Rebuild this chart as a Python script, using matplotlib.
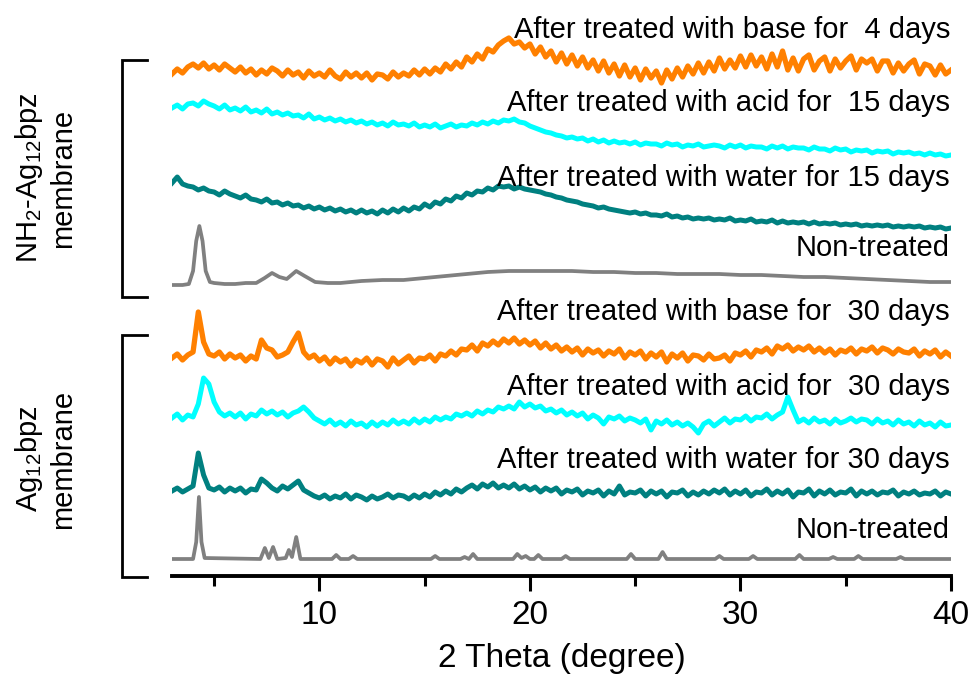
import numpy as np
import matplotlib
matplotlib.use("Agg")
import matplotlib.pyplot as plt
from matplotlib.lines import Line2D

plt.rcParams['font.family'] = ['Liberation Sans', 'DejaVu Sans']
plt.rcParams['mathtext.fontset'] = 'custom'
plt.rcParams['mathtext.rm'] = 'Liberation Sans'
plt.rcParams['mathtext.it'] = 'Liberation Sans:italic'

# 2-theta sampling grid for the scanned membranes (0.25 degree steps)
two_theta = np.linspace(3.0, 40.0, 149)

# NH2-Ag12bpz membrane patterns (intensity, a.u.)
nh2_base_4d = [
    2, 7, 3, 9, 12, 8, 13, 7, 11, 6, 12, 8, 4, 9, 3, 7, 1, 6, 2, 8,
    5, 0, 6, 1, 4, -2, 5, 0, 3, -1, 6, 0, -3, 4, -1, 3, -2, 3, -4, 2,
    1, -3, 4, -1, 3, 0, 6, 1, 7, 2, 8, 4, 12, 7, 14, 9, 19, 14, 22, 17,
    27, 24, 31, 35, 38, 32, 34, 28, 32, 22, 29, 19, 25, 14, 23, 12, 21, 10, 19, 8,
    16, 5, 15, 3, 12, 0, 11, -1, 8, -4, 7, -2, 5, -7, 6, -3, 8, -1, 10, 2,
    13, 3, 14, 5, 18, 7, 16, 8, 20, 9, 21, 10, 19, 7, 22, 9, 25, 6, 18, 5,
    17, 21, 6, 15, 19, 5, 17, 8, 15, 20, 6, 17, 13, 17, 5, 15, 15, 3, 13, 5,
    12, 16, 2, 12, 10, 1, 11, 2, 6]
nh2_acid_15d = [
    48, 51, 47, 52, 53, 50, 55, 52, 50, 47, 51, 46, 48, 45, 49, 44, 46, 43, 47, 42,
    44, 41, 43, 40, 41, 38, 42, 37, 39, 36, 38, 35, 37, 34, 36, 33, 35, 32, 34, 31,
    33, 30, 34, 31, 32, 30, 33, 29, 31, 29, 32, 28, 30, 32, 29, 31, 30, 33, 31, 34,
    32, 35, 33, 36, 35, 37, 34, 33, 30, 28, 26, 24, 23, 21, 20, 18, 19, 17, 18, 15,
    17, 14, 16, 13, 15, 13, 14, 12, 14, 11, 13, 12, 12, 10, 13, 11, 12, 9, 11, 10,
    12, 9, 10, 11, 10, 8, 11, 9, 11, 8, 10, 9, 9, 7, 10, 8, 10, 7, 9, 8,
    8, 6, 9, 7, 7, 5, 8, 6, 7, 4, 6, 5, 6, 3, 5, 4, 5, 2, 4, 3,
    4, 2, 3, 1, 3, 1, 2, 0, 1]
nh2_water_15d = [
    47, 53, 46, 44, 43, 40, 42, 39, 38, 35, 39, 36, 34, 32, 35, 31, 30, 28, 31, 27,
    28, 25, 27, 24, 25, 22, 24, 21, 23, 20, 22, 19, 21, 18, 20, 17, 20, 17, 19, 16,
    20, 17, 21, 18, 22, 19, 23, 21, 26, 23, 28, 26, 31, 29, 34, 32, 37, 35, 39, 38,
    42, 40, 44, 43, 44, 41, 43, 41, 40, 39, 38, 36, 35, 33, 32, 30, 29, 28, 26, 25,
    24, 22, 23, 21, 20, 19, 18, 17, 18, 16, 17, 15, 15, 14, 16, 13, 14, 12, 13, 11,
    12, 11, 12, 10, 11, 10, 12, 9, 10, 9, 11, 8, 9, 8, 10, 7, 9, 7, 8, 7,
    8, 6, 8, 6, 7, 6, 7, 5, 6, 5, 6, 4, 5, 4, 5, 4, 5, 3, 4, 3,
    4, 3, 4, 2, 3, 2, 3, 1, 2]
nh2_fresh_x = [
    3.0, 3.5, 3.8, 4.0, 4.15, 4.3, 4.45, 4.6, 4.8, 5.0, 5.5, 6.0, 6.5, 7.0, 7.4,
    7.75, 8.1, 8.45, 8.9, 9.3, 9.8, 10.4, 11.0, 12.0, 13.0, 14.0, 15.0, 16.0, 17.0,
    18.0, 19.0, 20.0, 21.0, 22.0, 23.0, 24.0, 25.0, 26.0, 27.0, 28.0, 29.0, 30.0,
    31.0, 32.0, 33.0, 34.0, 35.0, 36.0, 37.0, 38.0, 39.0, 40.0]
nh2_fresh = [
    1, 1, 2, 15, 45, 60, 45, 15, 4, 3, 2, 2, 3, 3, 8,
    13, 9, 7, 15, 10, 4, 3, 3, 5, 6, 6, 8, 10, 12,
    14, 15, 15, 15, 15, 14, 14, 13, 13, 12, 12, 12, 11,
    11, 10, 9, 9, 8, 7, 6, 5, 4, 4]

# Ag12bpz membrane patterns (intensity, a.u.)
ag_base_30d = [
    12, 16, 10, 15, 18, 58, 28, 16, 14, 18, 11, 16, 12, 15, 9, 14, 11, 30, 22, 20,
    13, 15, 18, 28, 37, 18, 12, 15, 9, 13, 6, 12, 8, 11, 4, 10, 7, 12, 5, 11,
    9, 3, 12, 6, 10, 14, 7, 12, 11, 15, 9, 16, 14, 19, 15, 21, 20, 25, 19, 27,
    24, 29, 25, 31, 27, 32, 26, 30, 25, 29, 22, 27, 21, 25, 19, 23, 18, 22, 15, 21,
    17, 20, 14, 19, 16, 21, 12, 18, 15, 19, 11, 17, 13, 18, 8, 16, 12, 17, 9, 15,
    14, 10, 16, 11, 12, 15, 9, 17, 15, 19, 13, 20, 18, 22, 16, 24, 21, 25, 19, 23,
    20, 24, 18, 22, 17, 21, 15, 20, 18, 22, 16, 21, 19, 23, 17, 22, 20, 16, 21, 18,
    17, 21, 14, 19, 16, 20, 13, 18, 14]
ag_acid_30d = [
    10, 14, 8, 13, 11, 24, 50, 44, 26, 16, 12, 15, 11, 15, 9, 14, 12, 18, 14, 17,
    13, 16, 11, 15, 17, 21, 16, 10, 7, 4, 8, 3, 6, 2, 7, 3, 5, 1, 6, 2,
    6, 3, 8, 4, 7, 4, 9, 5, 9, 6, 11, 8, 11, 9, 14, 12, 15, 12, 17, 14,
    18, 16, 21, 19, 22, 19, 26, 21, 24, 20, 22, 17, 19, 15, 18, 13, 16, 12, 15, 9,
    13, 10, 4, 11, 9, 12, 7, 10, 8, 5, 9, -2, 7, 4, 8, 3, 6, 2, 5, 1,
    -5, 4, 7, 2, 6, 10, 5, 9, 8, 12, 7, 11, 10, 14, 9, 13, 16, 31, 18, 6,
    9, 5, 10, 6, 8, 4, 9, 5, 7, 10, 6, 9, 8, 4, 9, 5, 7, 3, 8, 4,
    6, 2, 7, 3, 5, 1, 6, 2, 3]
ag_water_30d = [
    9, 12, 8, 11, 14, 47, 25, 12, 10, 13, 8, 12, 9, 12, 7, 11, 10, 21, 17, 12,
    9, 14, 11, 15, 19, 10, 7, 4, 2, 5, 1, 4, 2, 6, 1, 5, 3, 0, 4, 1,
    3, 6, 2, 5, 4, 1, 5, 2, 6, 3, 8, 5, 9, 6, 11, 8, 12, 15, 11, 16,
    13, 17, 12, 15, 12, 16, 11, 14, 10, 13, 8, 12, 9, 12, 6, 10, 8, 11, 5, 9,
    7, 10, 4, 9, 6, 14, 5, 8, 7, 10, 4, 9, 6, 9, 3, 8, 7, 10, 4, 8,
    5, 9, 6, 10, 7, 11, 5, 9, 6, 10, 4, 8, 7, 11, 5, 9, 6, 10, 3, 8,
    7, 11, 4, 9, 6, 10, 5, 8, 7, 11, 4, 9, 6, 9, 5, 8, 7, 10, 4, 8,
    6, 9, 5, 7, 6, 9, 4, 8, 6]
ag_fresh_x = [
    3.0, 4.0, 4.15, 4.28, 4.4, 4.55, 7.2, 7.41, 7.6, 7.8, 8.0, 8.4, 8.55, 8.7,
    8.9, 9.1, 10.6, 10.8, 11.0, 11.4, 11.6, 11.8, 15.3, 15.5, 15.7, 16.7, 16.9,
    17.1, 17.3, 17.5, 19.2, 19.4, 19.6, 19.8, 20.0, 20.2, 20.4, 20.6, 21.5, 21.7,
    21.9, 24.6, 24.8, 25.0, 26.1, 26.3, 26.5, 28.8, 29.0, 29.2, 30.4, 30.6, 30.8,
    32.6, 32.8, 33.0, 34.2, 34.4, 34.6, 35.4, 35.6, 35.8, 37.4, 37.6, 37.8, 40.0]
ag_fresh = [
    3, 3, 20, 65, 20, 4, 3, 14, 4, 15, 3, 4, 12, 5,
    25, 3, 3, 7, 3, 3, 6, 3, 3, 6, 3, 3, 5,
    3, 8, 3, 3, 8, 4, 6, 3, 3, 7, 3, 3, 6,
    3, 3, 8, 3, 3, 10, 3, 3, 6, 3, 3, 6, 3,
    3, 7, 3, 3, 5, 3, 3, 6, 3, 3, 5, 3, 3]

series_x = [two_theta, two_theta, two_theta, nh2_fresh_x,
            two_theta, two_theta, two_theta, ag_fresh_x]
series_y = [nh2_base_4d, nh2_acid_15d, nh2_water_15d, nh2_fresh,
            ag_base_30d, ag_acid_30d, ag_water_30d, ag_fresh]
series_labels = [
    "After treated with base for  4 days",
    "After treated with acid for  15 days",
    "After treated with water for 15 days",
    "Non-treated",
    "After treated with base for  30 days",
    "After treated with acid for  30 days",
    "After treated with water for 30 days",
    "Non-treated",
]
group_labels = ["NH$_2$-Ag$_{12}$bpz\nmembrane", "Ag$_{12}$bpz\nmembrane"]

# vertical stacking offsets and label heights
offsets = [500, 420, 346, 290, 206, 148, 76, 14]
label_y = [546, 473, 398, 328, 264, 189, 116, 46]
colors = ["#FF8000", "#00FFFF", "#008080", "#808080"] * 2
widths = [3.8, 3.6, 3.6, 2.7] * 2

W, H = 972, 675
fig = plt.figure(figsize=(W / 100, H / 100), dpi=100)
ax = fig.add_axes([172 / W, 99 / H, 779 / W, 576 / H])

for xs, ys, off, c, lw in zip(series_x, series_y, offsets, colors, widths):
    ax.plot(xs, np.asarray(ys) + off, color=c, lw=lw, solid_joinstyle='round')

for txt, yy in zip(series_labels, label_y):
    ax.text(39.95, yy, txt, ha='right', va='center', fontsize=21, color='black')

ax.set_xlim(3, 40)
ax.set_ylim(0, 576)
for s in ('left', 'right', 'top'):
    ax.spines[s].set_visible(False)
ax.spines['bottom'].set_linewidth(2.8)
ax.set_yticks([])
ax.set_xticks([10, 20, 30, 40])
ax.set_xticks([5, 15, 25, 35], minor=True)
ax.tick_params(axis='x', which='major', length=11, width=2.2, labelsize=24, pad=6)
ax.tick_params(axis='x', which='minor', length=7, width=2.2)
ax.set_xlabel("2 Theta (degree)", fontsize=24, labelpad=9)

# group brackets on the left
for top, bot in [(60, 297), (335, 577)]:
    xs = np.array([147, 122, 122, 147]) / W
    ys = 1 - np.array([top, top, bot, bot]) / H
    fig.add_artist(Line2D(xs, ys, transform=fig.transFigure, color='black',
                          lw=2.0, solid_joinstyle='miter'))

fig.text(45 / W, 1 - 178 / H, group_labels[0], rotation=90, ha='center',
         va='center', fontsize=21, linespacing=1.15, multialignment='center')
fig.text(45 / W, 1 - 459 / H, group_labels[1], rotation=90, ha='center',
         va='center', fontsize=21, linespacing=1.15, multialignment='center')

fig.savefig("out.png", dpi=100)
